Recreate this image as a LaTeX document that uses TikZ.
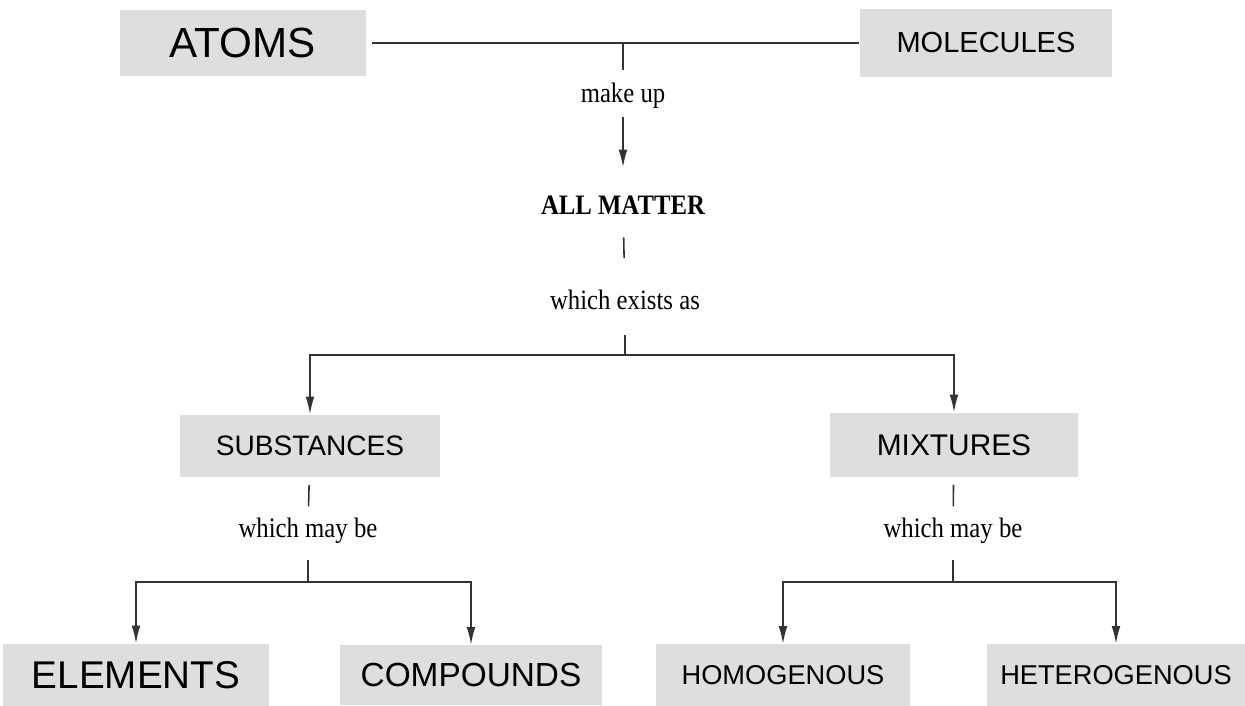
\documentclass[tikz,border=0pt]{standalone}
\usepackage{fontspec}
\setmainfont{Liberation Serif}
\newfontfamily\labelfont[FakeStretch=0.88]{Liberation Serif}
\newfontfamily\handfont{Liberation Sans}
\usetikzlibrary{arrows.meta}
\tikzset{%
  flowtip/.tip={Latex[length=10pt,width=5pt]},
  concept/.style={fill=black!13, inner sep=0pt, font=\handfont\fontsize{#1}{#1}\selectfont},
  linkword/.style={inner sep=0pt, font=\labelfont\fontsize{16}{19}\selectfont},
  link/.style={draw=black!80, line width=0.9pt}
}

\begin{document}
\begin{tikzpicture}[x=0.02cm,y=-0.02cm]
\useasboundingbox (0,0) rectangle (1245,706);
% boxes
\node[concept=24, minimum width=4.94cm, minimum height=1.34cm] (atoms) at (243,43) {ATOMS};
\node[concept=16.5, minimum width=5.06cm, minimum height=1.38cm] (molecules) at (986,43) {MOLECULES};
\node[concept=16, minimum width=5.22cm, minimum height=1.26cm] (subst) at (310,446) {SUBSTANCES};
\node[concept=17, minimum width=4.96cm, minimum height=1.3cm] (mixt) at (954,445) {MIXTURES};
\node[concept=22, minimum width=5.32cm, minimum height=1.26cm] (elem) at (136,675) {ELEMENTS};
\node[concept=19, minimum width=5.24cm, minimum height=1.2cm] (comp) at (471,675) {COMPOUNDS};
\node[concept=15.5, minimum width=5.1cm, minimum height=1.24cm] (homo) at (783,675) {HOMOGENOUS};
\node[concept=15.5, minimum width=5.18cm, minimum height=1.24cm] (hetero) at (1116,675) {HETEROGENOUS};
% linking words
\node[linkword] (makeup) at (623,96) {make up};
\node[linkword, font=\labelfont\bfseries\fontsize{16}{19}\selectfont] (allmatter) at (623,205) {ALL MATTER};
\node[linkword] (exists) at (625,300) {which exists as};
\node[linkword] (maybeS) at (308,531) {which may be};
\node[linkword] (maybeM) at (953,531) {which may be};
\coordinate (forkA) at (625,355);
\coordinate (forkS) at (308,582);
\coordinate (forkM) at (953,582);
% connectors
\draw[link, shorten <=3pt] (atoms) -- (molecules);
\draw[link, shorten >=7.5pt] (makeup |- atoms) -- (makeup.north);
\draw[link, -flowtip, shorten <=4.5pt, shorten >=16pt] (makeup) -- (allmatter);
\draw[link, shorten <=13pt, shorten >=18pt] (allmatter) -- (exists);
\draw[link, shorten <=14pt] (exists) -- (forkA);
\draw[link, -flowtip] (forkA) -| (subst.north);
\draw[link, -flowtip] (forkA) -| (mixt.north);
\draw[link, shorten <=4pt, shorten >=6.5pt] (subst) -- (maybeS);
\draw[link, shorten <=4pt, shorten >=6.5pt] (mixt) -- (maybeM);
\draw[link, shorten <=9pt] (maybeS) -- (forkS);
\draw[link, shorten <=9pt] (maybeM) -- (forkM);
\draw[link, -flowtip] (forkS) -| (elem.north);
\draw[link, -flowtip] (forkS) -| (comp.north);
\draw[link, -flowtip] (forkM) -| (homo.north);
\draw[link, -flowtip] (forkM) -| (hetero.north);
\end{tikzpicture}
\end{document}
